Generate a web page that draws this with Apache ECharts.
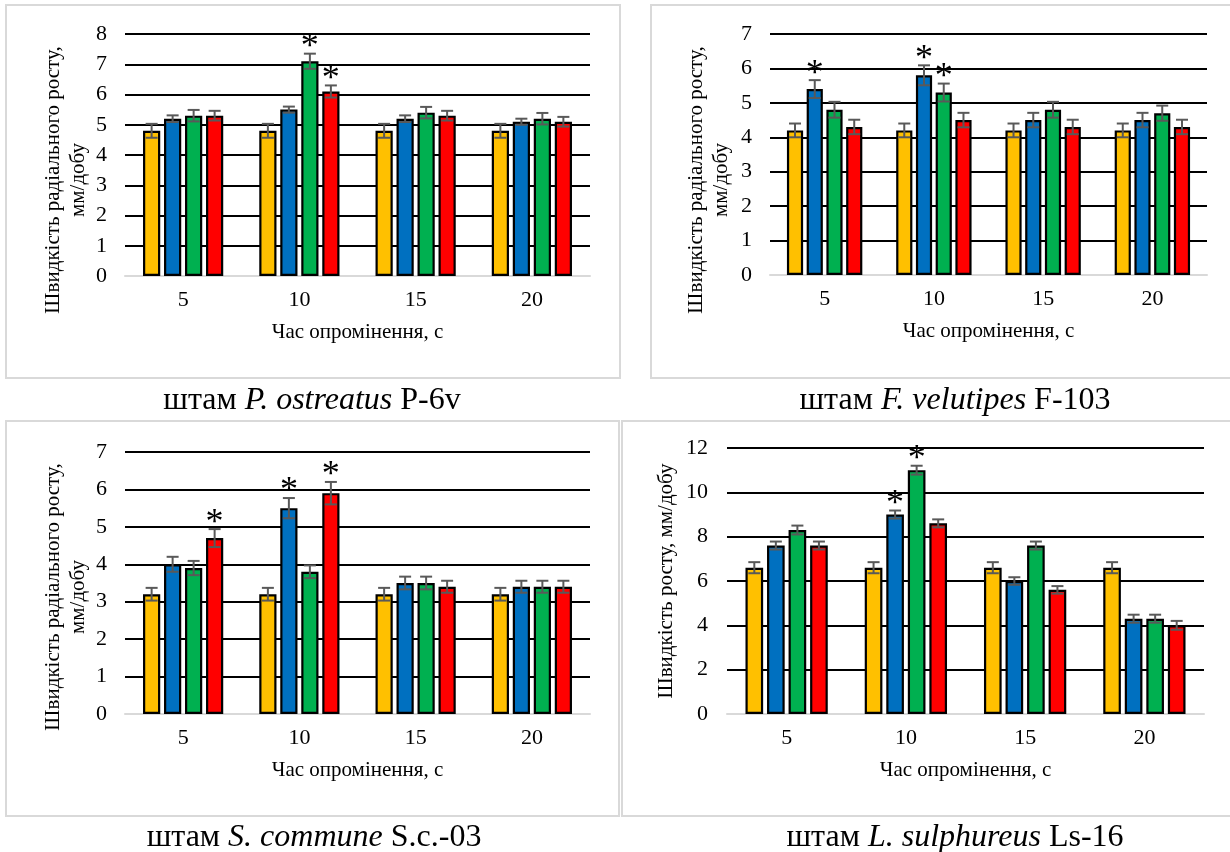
<!DOCTYPE html>
<html>
<head>
<meta charset="utf-8">
<script src="https://cdn.jsdelivr.net/npm/echarts@6/dist/echarts.min.js"></script>
<style>
  html, body { margin: 0; padding: 0; background: #fff; }
  #chart { width: 1230px; height: 852px; }
</style>
</head>
<body>
<div id="chart"></div>
<script>
// irradiation time, s
const categories = ['5', '10', '15', '20'];

// values per series (yellow, blue, green, red) across categories
const p1Values = [[4.8, 4.8, 4.8, 4.8], [5.2, 5.5, 5.2, 5.1], [5.3, 7.1, 5.4, 5.2], [5.3, 6.1, 5.3, 5.1]];
const p1Errors = [[0.23, 0.23, 0.23, 0.23], [0.11, 0.1, 0.11, 0.1], [0.19, 0.25, 0.19, 0.19], [0.16, 0.2, 0.16, 0.16]];
const p1Stars = [[1, 2], [1, 3]];

const p2Values = [[4.2, 4.2, 4.2, 4.2], [5.4, 5.8, 4.5, 4.5], [4.8, 5.3, 4.8, 4.7], [4.3, 4.5, 4.3, 4.3]];
const p2Errors = [[0.2, 0.2, 0.2, 0.2], [0.26, 0.29, 0.21, 0.21], [0.23, 0.26, 0.23, 0.22], [0.21, 0.21, 0.21, 0.21]];
const p2Stars = [[0, 1], [1, 1], [1, 2]];

const p3Values = [[3.2, 3.2, 3.2, 3.2], [4.0, 5.5, 3.5, 3.4], [3.9, 3.8, 3.5, 3.4], [4.7, 5.9, 3.4, 3.4]];
const p3Errors = [[0.17, 0.17, 0.17, 0.17], [0.2, 0.27, 0.17, 0.16], [0.19, 0.17, 0.17, 0.16], [0.24, 0.3, 0.16, 0.16]];
const p3Stars = [[0, 3], [1, 1], [1, 3]];

const p4Values = [[6.6, 6.6, 6.6, 6.6], [7.6, 9.0, 6.0, 4.3], [8.3, 11.0, 7.6, 4.3], [7.6, 8.6, 5.6, 4.0]];
const p4Errors = [[0.25, 0.25, 0.25, 0.25], [0.18, 0.18, 0.17, 0.18], [0.2, 0.2, 0.18, 0.18], [0.18, 0.18, 0.17, 0.2]];
const p4Stars = [[1, 1], [1, 2]];

const yTitles = ['Швидкість радіального росту,\nмм/добу', 'Швидкість радіального росту,\nмм/добу',
  'Швидкість радіального росту,\nмм/добу', 'Швидкість росту, мм/добу'];
const xTitle = 'Час опромінення, с';
const captions = [['P. ostreatus', ' P-6v'], ['F. velutipes', ' F-103'], ['S. commune', ' S.c.-03'], ['L. sulphureus', ' Ls-16']];

const colors = ['#FFC000', '#0070C0', '#00B050', '#FF0000'];
const FONT = 'Liberation Serif';
const CAT_GAP = 0.31, BAR_GAP = 0.22;

const panels = [
  { values: p1Values, errors: p1Errors, stars: p1Stars, max: 8, interval: 1,
    grid: { left: 125, top: 34, width: 465, height: 242 }, yTitle: [66, 180], caption: [312, 401],
    box: [6, 5, 614, 373], labelMargin: 18 },
  { values: p2Values, errors: p2Errors, stars: p2Stars, max: 7, interval: 1,
    grid: { left: 770, top: 34, width: 437, height: 241 }, yTitle: [709, 180], caption: [955, 401],
    box: [651, 5, 590, 373], labelMargin: 18 },
  { values: p3Values, errors: p3Errors, stars: p3Stars, max: 7, interval: 1,
    grid: { left: 125, top: 452, width: 465, height: 262 }, yTitle: [66, 597], caption: [314, 838],
    box: [6, 421, 613, 395], labelMargin: 18 },
  { values: p4Values, errors: p4Errors, stars: p4Stars, max: 12, interval: 2,
    grid: { left: 727, top: 448, width: 477, height: 266 }, yTitle: [666, 581], caption: [955, 838],
    box: [622, 421, 620, 395], labelMargin: 19 }
];

const grid = [], xAxis = [], yAxis = [], series = [], graphic = [];

panels.forEach(function (p, k) {
  grid.push(p.grid);
  xAxis.push({
    type: 'category', gridIndex: k, data: categories, z: 1,
    axisLine: { lineStyle: { color: '#d9d9d9', width: 2 } },
    axisTick: { show: false },
    axisLabel: { fontFamily: FONT, fontSize: 22, color: '#000', margin: 13 },
    name: xTitle, nameLocation: 'middle', nameGap: 46,
    nameTextStyle: { fontFamily: FONT, fontSize: 21, color: '#000' }
  });
  yAxis.push({
    type: 'value', gridIndex: k, min: 0, max: p.max, interval: p.interval,
    axisLine: { show: false }, axisTick: { show: false },
    axisLabel: { fontFamily: FONT, fontSize: 22, color: '#000', margin: p.labelMargin },
    splitLine: { lineStyle: { color: '#000', width: 2 } }
  });
  p.values.forEach(function (vals, s) {
    series.push({
      type: 'bar', xAxisIndex: k, yAxisIndex: k, data: vals,
      barCategoryGap: (CAT_GAP * 100) + '%', barGap: (BAR_GAP * 100) + '%',
      itemStyle: { color: colors[s], borderColor: '#000', borderWidth: 2.2 },
      emphasis: { disabled: true }, animation: false
    });
  });
  const errData = [];
  p.values.forEach(function (vals, s) {
    vals.forEach(function (v, c) {
      const star = p.stars.some(function (st) { return st[0] === c && st[1] === s; }) ? 1 : 0;
      errData.push([c, s, v, p.errors[s][c], star]);
    });
  });
  series.push({
    type: 'custom', xAxisIndex: k, yAxisIndex: k, z: 5, animation: false, silent: true,
    encode: { x: 0, y: 2 },
    data: errData,
    renderItem: function (params, api) {
      const c = api.value(0), s = api.value(1), v = api.value(2), e = api.value(3), star = api.value(4);
      const band = api.size([1, 0])[0];
      const usable = band * (1 - CAT_GAP);
      const bw = usable / (4 + 3 * BAR_GAP);
      const cx = api.coord([c, 0])[0] - usable / 2 + bw / 2 + s * bw * (1 + BAR_GAP);
      const yTop = api.coord([c, v + e])[1];
      const yBot = api.coord([c, v - e])[1];
      const st = { stroke: '#595959', lineWidth: 2 };
      const children = [
        { type: 'line', shape: { x1: cx, y1: yTop, x2: cx, y2: yBot }, style: st },
        { type: 'line', shape: { x1: cx - 6, y1: yTop, x2: cx + 6, y2: yTop }, style: st },
        { type: 'line', shape: { x1: cx - 6, y1: yBot, x2: cx + 6, y2: yBot }, style: st }
      ];
      if (star) {
        children.push({
          type: 'text', x: cx, y: yTop - 6,
          style: { text: '*', font: '36px ' + FONT, fill: '#000', align: 'center', verticalAlign: 'middle' }
        });
      }
      return { type: 'group', children: children };
    }
  });

  // panel frame
  graphic.push({
    type: 'rect', shape: { x: p.box[0], y: p.box[1], width: p.box[2], height: p.box[3] },
    style: { fill: 'none', stroke: '#d9d9d9', lineWidth: 2 }, z: -1, silent: true
  });
  // y-axis title
  graphic.push({
    type: 'text', x: p.yTitle[0], y: p.yTitle[1], rotation: Math.PI / 2, silent: true,
    style: { text: yTitles[k], font: '21px ' + FONT, fill: '#000', align: 'center', verticalAlign: 'middle', lineHeight: 25 }
  });
  // caption under the panel
  graphic.push({
    type: 'text', x: p.caption[0], y: p.caption[1], silent: true,
    style: {
      text: '{n|штам }{i|' + captions[k][0] + '}{n|' + captions[k][1] + '}',
      align: 'center', verticalAlign: 'middle',
      rich: {
        n: { fontFamily: FONT, fontSize: 32, color: '#000' },
        i: { fontFamily: FONT, fontSize: 32, fontStyle: 'italic', color: '#000' }
      }
    }
  });
});

const chart = echarts.init(document.getElementById('chart'), null, { renderer: 'canvas' });
chart.setOption({
  animation: false,
  backgroundColor: '#fff',
  grid: grid, xAxis: xAxis, yAxis: yAxis, series: series, graphic: graphic
});
</script>
</body>
</html>
